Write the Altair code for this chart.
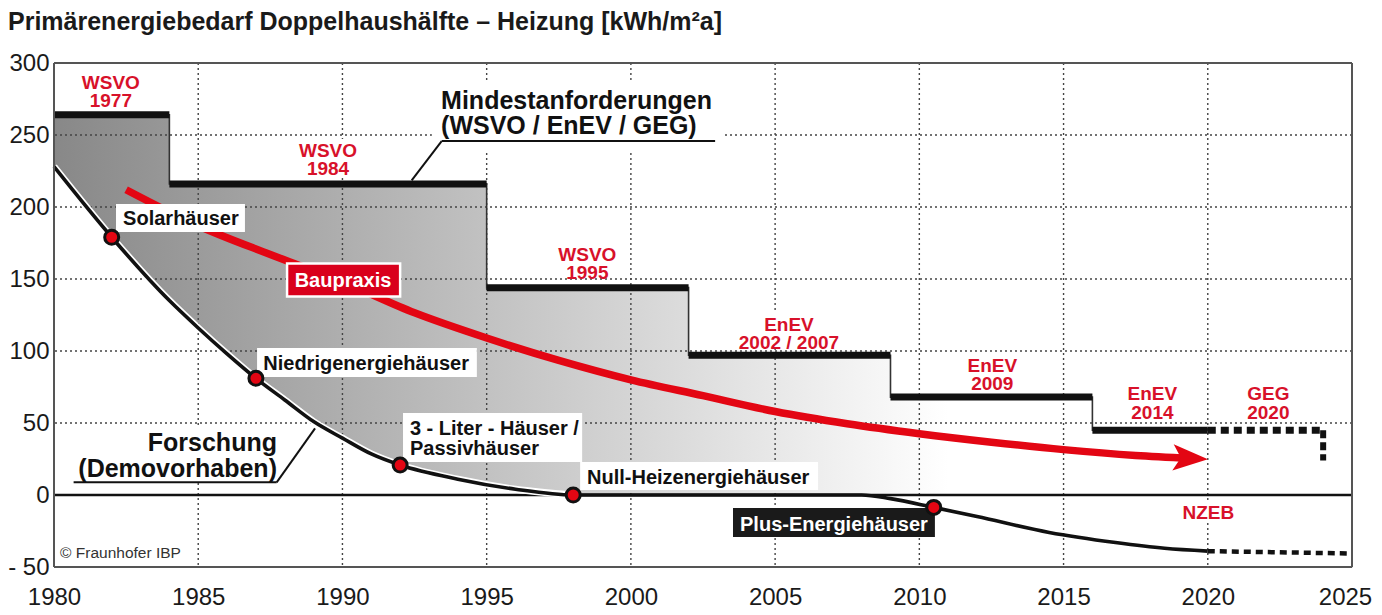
import altair as alt
import pandas as pd

# ---------------- data ----------------
year_ticks = [1980, 1985, 1990, 1995, 2000, 2005, 2010, 2015, 2020, 2025]
value_ticks = [-50, 0, 50, 100, 150, 200, 250, 300]

# Mindestanforderungen (WSVO / EnEV) - step levels
step_start = [1980, 1984, 1995, 2002, 2009, 2016]
step_end = [1984, 1995, 2002, 2009, 2016, 2020]
step_value = [264, 216, 144, 97, 68, 45]
# GEG 2020 (dashed continuation)
geg_start, geg_end, geg_value, geg_drop = 2020, 2024, 45, 24
shade_end = 2011  # grey shading fades out here

# regulation names
reg_top = ["WSVO", "WSVO", "WSVO", "EnEV", "EnEV", "EnEV", "GEG"]
reg_bottom = ["1977", "1984", "1995", "2002 / 2007", "2009", "2014", "2020"]
reg_year = [1981.97, 1989.5, 1998.49, 2005.48, 2012.53, 2018.08, 2022.1]
reg_value_top = [286.2, 238.8, 167.0, 118.4, 89.5, 69.8, 69.8]
reg_value_bottom = [273.5, 226.1, 154.3, 105.7, 76.8, 56.6, 56.6]

# Forschung (Demovorhaben)
research_year = [1980, 1982, 1984, 1985, 1986, 1987, 1988, 1989, 1990, 1991, 1992,
                 1994, 1996, 1998, 2008, 2009, 2010.5, 2012, 2014.5, 2016.8, 2018.5, 2020]
research_value = [228, 179, 135, 116, 98, 81, 66, 51, 39.5, 28.5, 20.8,
                  11, 4, 0, 0, -2.5, -8.6, -15, -26, -33, -37, -39]
research_future_year = [2020, 2025]
research_future_value = [-39, -40.6]

# milestones on the research curve
dot_year = [1982, 1987, 1992, 1998, 2010.5]
dot_value = [179, 81, 20.8, 0, -8.6]

# Baupraxis
bau_year = [1982.5, 1985, 1987.5, 1990, 1992.5, 1995, 1997.5, 2000, 2002.5, 2005,
            2007.5, 2010, 2012.5, 2015, 2017.5, 2019.4]
bau_value = [212, 187, 167, 148, 126.5, 109, 93.5, 80, 69, 58,
             49.5, 42.6, 36.7, 31.5, 27.5, 25.5]

# label boxes (year / value extents)
box_x1 = [1982.15, 1987.04, 1992.10, 1998.24]
box_x2 = [1986.62, 1994.66, 1998.31, 2006.49]
box_y1 = [202.1, 102.1, 56.9, 22.9]
box_y2 = [182.6, 82.0, 22.9, 3.5]

center_text = ["Solarhäuser", "Niedrigenergiehäuser"]
center_text_year = [1984.4, 1990.82]
center_text_value = [191.6, 91.3]

left_text = ["3 - Liter - Häuser /", "Passivhäuser", "Null-Heizenergiehäuser"]
left_text_year = [1992.34, 1992.34, 1998.48]
left_text_value = [46.0, 32.2, 11.9]

plus_box = dict(x1=2003.54, x2=2010.54, y1=-9.0, y2=-29.2)
plus_text = dict(label="Plus-Energiehäuser", year=2007.04, value=-20.6)
bau_box = dict(x1=1988.08, x2=1992.0, y1=160.8, y2=137.8)
bau_text = dict(label="Baupraxis", year=1990.02, value=148.4)

big_text = ["Mindestanforderungen", "(WSVO / EnEV / GEG)"]
big_text_year = [1993.42, 1993.42]
big_text_value = [273.6, 256.2]
forsch_text = ["Forschung", "(Demovorhaben)"]
forsch_text_year = [1987.73, 1987.73]
forsch_text_value = [36.3, 18.2]

# leader lines
lead_x1 = [1993.44, 1993.44, 1980.68, 1987.72]
lead_y1 = [245.8, 245.8, 8.8, 8.8]
lead_x2 = [2002.92, 1992.40, 1987.72, 1989.05]
lead_y2 = [245.8, 218.5, 8.8, 46.3]

# white masks behind free-standing labels (hide the grid)
mask_x1 = [1993.1, 1980.55, 1988.46, 2003.71, 2018.97]
mask_x2 = [2003.26, 1987.9, 1990.54, 2007.25, 2021.05]
mask_y1 = [288.2, 47.0, 247.2, 127.1, -4.2]
mask_y2 = [239.6, 10.4, 220.8, 101.6, -19.4]

nzeb = dict(label="NZEB", year=2020.02, value=-12.4)
copyright = dict(label="© Fraunhofer IBP", year=1980.21, value=-40.6)

TITLE = "Primärenergiebedarf Doppelhaushälfte – Heizung [kWh/m²a]"

# ---------------- styling ----------------
FONT = "Liberation Sans, Arial, Helvetica, sans-serif"
RED_LINE = "#e30613"
RED_TEXT = "#d8112a"
BLACK = "#111111"

x_scale = alt.Scale(domain=[1980, 2025], nice=False, zero=False)
y_scale = alt.Scale(domain=[-50, 300], nice=False, zero=False)
x_axis = alt.Axis(values=year_ticks, format="d", grid=False, ticks=False, domain=False,
                  labelFont=FONT, labelFontSize=24, labelColor="#1a1a1a",
                  labelPadding=18, labelFlush=False, labelOverlap=False, title=None,
                  labelOffset={"condition": {"test": "datum.value == 2025", "value": -7}, "value": 0})
y_axis = alt.Axis(values=value_ticks, grid=False, ticks=False, domain=False,
                  labelFont=FONT, labelFontSize=24, labelColor="#1a1a1a",
                  labelPadding=5, labelOverlap=False, title=None,
                  labelExpr="datum.value < 0 ? '- ' + abs(datum.value) : datum.label")


def X(field="year"):
    return alt.X(f"{field}:Q", scale=x_scale, axis=x_axis)


def Y(field="value"):
    return alt.Y(f"{field}:Q", scale=y_scale, axis=y_axis)


# ---------------- tables ----------------
shade_years = [s for s in step_start if s < shade_end] + [shade_end]
shade_vals = [v for s, v in zip(step_start, step_value) if s < shade_end]
shade_vals = shade_vals + [shade_vals[-1]]
shade_df = pd.DataFrame({"year": shade_years, "value": shade_vals})

step_df = pd.DataFrame({"start": step_start, "end": step_end, "value": step_value})
step_line_df = pd.DataFrame({"year": step_start + [step_end[-1]],
                             "value": step_value + [step_value[-1]]})
research_df = pd.DataFrame({"year": research_year, "value": research_value})
research_pos_df = research_df[research_df["year"] <= 1998]
research_future_df = pd.DataFrame({"year": research_future_year, "value": research_future_value})
dots_df = pd.DataFrame({"year": dot_year, "value": dot_value})
bau_df = pd.DataFrame({"year": bau_year, "value": bau_value})
bau_end_df = bau_df.tail(1)

# ---------------- layers ----------------
gradient = alt.Gradient(gradient="linear",
                        stops=[alt.GradientStop(color="#888888", offset=0),
                               alt.GradientStop(color="#ffffff", offset=1)],
                        x1=0, x2=1, y1=0, y2=0)

shade = alt.Chart(shade_df).mark_area(interpolate="step-after", fill=gradient).encode(
    x=X(), y=Y(), y2=alt.datum(0))
white_under = alt.Chart(research_df).mark_area(interpolate="monotone", color="white").encode(
    x=X(), y=Y(), y2=alt.datum(0))

grid_v = alt.Chart(pd.DataFrame({"year": year_ticks[1:-1]})).mark_rule(
    color="#444444", strokeWidth=1.4, strokeDash=[2, 3]).encode(x=X())
grid_h = alt.Chart(pd.DataFrame({"value": [v for v in value_ticks if 0 < v < 300]})).mark_rule(
    color="#444444", strokeWidth=1.4, strokeDash=[2, 3]).encode(y=Y())

masks = alt.Chart(pd.DataFrame({"x1": mask_x1, "x2": mask_x2, "y1": mask_y1, "y2": mask_y2})).mark_rect(
    color="white").encode(x=X("x1"), x2="x2", y=Y("y1"), y2="y2")

step_thin = alt.Chart(step_line_df).mark_line(interpolate="step-after", color="#333333",
                                              strokeWidth=1.6).encode(x=X(), y=Y())
step_thick = alt.Chart(step_df).mark_rule(color=BLACK, strokeWidth=7, strokeCap="butt").encode(
    x=X("start"), x2="end", y=Y("value"))

geg_h = alt.Chart(pd.DataFrame({"start": [geg_start], "end": [geg_end], "value": [geg_value]})).mark_rule(
    color=BLACK, strokeWidth=7, strokeDash=[8, 5]).encode(x=X("start"), x2="end", y=Y("value"))
geg_v = alt.Chart(pd.DataFrame({"year": [geg_end], "value": [geg_value], "value2": [geg_drop]})).mark_rule(
    color=BLACK, strokeWidth=6, strokeDash=[8, 4]).encode(x=X(), y=Y(), y2="value2")

zero_line = alt.Chart(pd.DataFrame({"value": [0]})).mark_rule(color=BLACK, strokeWidth=2.5).encode(y=Y())

research_halo = alt.Chart(research_pos_df).mark_line(interpolate="monotone", color="white",
                                                     strokeWidth=7).encode(x=X(), y=Y())
research_line = alt.Chart(research_df).mark_line(interpolate="monotone", color=BLACK,
                                                 strokeWidth=3.6).encode(x=X(), y=Y())
research_future = alt.Chart(research_future_df).mark_line(color=BLACK, strokeWidth=4.5,
                                                          strokeDash=[7, 5]).encode(x=X(), y=Y())

bau_line = alt.Chart(bau_df).mark_line(interpolate="monotone", color=RED_LINE, strokeWidth=7.5,
                                       strokeCap="butt").encode(x=X(), y=Y())
bau_arrow = alt.Chart(bau_end_df).mark_point(shape="M 1 0 L -1 -0.75 L -0.55 0 L -1 0.75 Z",
                                             filled=True, color=RED_LINE, opacity=1,
                                             size=1225, angle=3).encode(x=X(), y=Y())

leaders = alt.Chart(pd.DataFrame({"x1": lead_x1, "y1": lead_y1, "x2": lead_x2, "y2": lead_y2})).mark_rule(
    color=BLACK, strokeWidth=2).encode(x=X("x1"), y=Y("y1"), x2="x2", y2="y2")

boxes = alt.Chart(pd.DataFrame({"x1": box_x1, "x2": box_x2, "y1": box_y1, "y2": box_y2})).mark_rect(
    color="white").encode(x=X("x1"), x2="x2", y=Y("y1"), y2="y2")
plus_rect = alt.Chart(pd.DataFrame([plus_box])).mark_rect(color="#1a1a1a").encode(
    x=X("x1"), x2="x2", y=Y("y1"), y2="y2")
bau_rect = alt.Chart(pd.DataFrame([bau_box])).mark_rect(color="#d9001c", stroke="white",
                                                       strokeWidth=2.5).encode(
    x=X("x1"), x2="x2", y=Y("y1"), y2="y2")

center_labels = alt.Chart(pd.DataFrame({"label": center_text, "year": center_text_year,
                                        "value": center_text_value})).mark_text(
    font=FONT, fontSize=20, fontWeight="bold", color=BLACK, align="center", baseline="middle").encode(
    x=X(), y=Y(), text="label:N")
left_labels = alt.Chart(pd.DataFrame({"label": left_text, "year": left_text_year,
                                      "value": left_text_value})).mark_text(
    font=FONT, fontSize=20, fontWeight="bold", color=BLACK, align="left", baseline="middle").encode(
    x=X(), y=Y(), text="label:N")
white_labels = alt.Chart(pd.DataFrame([plus_text, bau_text])).mark_text(
    font=FONT, fontSize=20, fontWeight="bold", color="white", align="center", baseline="middle").encode(
    x=X(), y=Y(), text="label:N")
big_labels = alt.Chart(pd.DataFrame({"label": big_text, "year": big_text_year,
                                     "value": big_text_value})).mark_text(
    font=FONT, fontSize=25, fontWeight="bold", color=BLACK, align="left", baseline="middle").encode(
    x=X(), y=Y(), text="label:N")
forsch_labels = alt.Chart(pd.DataFrame({"label": forsch_text, "year": forsch_text_year,
                                        "value": forsch_text_value})).mark_text(
    font=FONT, fontSize=25, fontWeight="bold", color=BLACK, align="right", baseline="middle").encode(
    x=X(), y=Y(), text="label:N")

reg_df = pd.DataFrame({"label": reg_top + reg_bottom + [nzeb["label"]],
                       "year": reg_year + reg_year + [nzeb["year"]],
                       "value": reg_value_top + reg_value_bottom + [nzeb["value"]]})
reg_labels = alt.Chart(reg_df).mark_text(
    font=FONT, fontSize=19, fontWeight="bold", color=RED_TEXT, align="center", baseline="middle").encode(
    x=X(), y=Y(), text="label:N")

copy_label = alt.Chart(pd.DataFrame([copyright])).mark_text(
    font=FONT, fontSize=15.5, color="#333333", align="left", baseline="middle").encode(
    x=X(), y=Y(), text="label:N")

dots = alt.Chart(dots_df).mark_point(shape="circle", filled=True, fill="#e30613", stroke=BLACK,
                                     strokeWidth=3, size=196, opacity=1).encode(x=X(), y=Y())

frame_v = alt.Chart(pd.DataFrame({"year": [1980, 2025]})).mark_rule(color="#555555", strokeWidth=2).encode(x=X())
frame_h = alt.Chart(pd.DataFrame({"value": [-50, 300]})).mark_rule(color="#555555", strokeWidth=2).encode(y=Y())

chart = alt.layer(
    shade, white_under, grid_v, grid_h, masks,
    step_thin, step_thick, geg_h, geg_v, zero_line,
    research_halo, research_line, research_future,
    bau_line, bau_arrow, leaders,
    boxes, plus_rect, bau_rect,
    center_labels, left_labels, white_labels, big_labels, forsch_labels, reg_labels, copy_label,
    dots, frame_v, frame_h,
).properties(
    width=1298, height=504,
    autosize=alt.AutoSizeParams(type="none"),
    padding={"left": 46, "top": 55, "right": 22, "bottom": 44},
    title=alt.TitleParams(TITLE, anchor="start", frame="group", font=FONT, fontSize=25,
                          fontWeight="bold", color="#1a1a1a", dx=-46, dy=25, offset=16,
                          baseline="bottom"),
).configure_view(stroke=None).configure(font=FONT)

chart.save("out.html", embed_options={"renderer": "svg", "actions": False})
